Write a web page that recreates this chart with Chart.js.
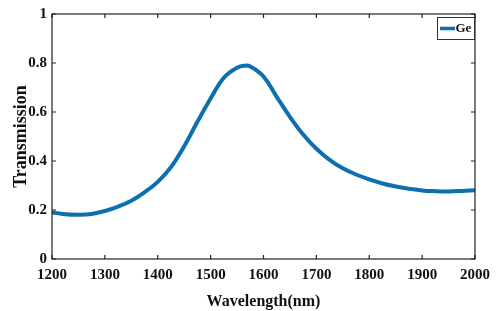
<!DOCTYPE html>
<html>
<head>
<meta charset="utf-8">
<script src="https://cdn.jsdelivr.net/npm/chart.js@4.4.1/dist/chart.umd.min.js"></script>
<style>
  html, body { margin: 0; padding: 0; background: #fff; }
  #wrap { width: 497px; height: 311px; }
</style>
</head>
<body>
<div id="wrap"><canvas id="transChart" width="497" height="311"></canvas></div>
<script>
// wavelength (nm) and transmission
const wavelength = [1200, 1225, 1250, 1275, 1300, 1325, 1350, 1375, 1400, 1425, 1450, 1475, 1500, 1525, 1550, 1565, 1575, 1600, 1625, 1650, 1675, 1700, 1725, 1750, 1775, 1800, 1825, 1850, 1875, 1900, 1925, 1950, 1975, 2000];
const transmission = [0.19, 0.183, 0.181, 0.184, 0.196, 0.214, 0.238, 0.272, 0.315, 0.375, 0.46, 0.56, 0.655, 0.74, 0.781, 0.789, 0.786, 0.745, 0.662, 0.58, 0.508, 0.45, 0.405, 0.37, 0.345, 0.325, 0.308, 0.296, 0.287, 0.28, 0.277, 0.276, 0.278, 0.281];
const xTicks = [1200, 1300, 1400, 1500, 1600, 1700, 1800, 1900, 2000];
const yTicks = [0, 0.2, 0.4, 0.6, 0.8, 1];
const seriesName = 'Ge';
const lineColor = '#0b6fb0';

const serif = '"Liberation Serif", "Times New Roman", serif';

// box, inward ticks and legend like the matlab figure
const frame = {
  id: 'frame',
  afterDatasetsDraw(chart) {
    const { ctx, chartArea: a, scales } = chart;
    ctx.save();
    ctx.strokeStyle = '#222';
    ctx.lineWidth = 1.2;
    ctx.strokeRect(a.left, a.top, a.right - a.left, a.bottom - a.top);
    const len = 4;
    ctx.beginPath();
    xTicks.forEach(v => {
      const x = scales.x.getPixelForValue(v);
      ctx.moveTo(x, a.bottom); ctx.lineTo(x, a.bottom - len);
      ctx.moveTo(x, a.top); ctx.lineTo(x, a.top + len);
    });
    yTicks.forEach(v => {
      const y = scales.y.getPixelForValue(v);
      ctx.moveTo(a.left, y); ctx.lineTo(a.left + len, y);
      ctx.moveTo(a.right, y); ctx.lineTo(a.right - len, y);
    });
    ctx.stroke();

    // legend box
    const ds = chart.data.datasets[0];
    const bx = 437, by = 17, bw = 37, bh = 22;
    ctx.fillStyle = '#fff';
    ctx.fillRect(bx, by, bw, bh);
    ctx.lineWidth = 1;
    ctx.strokeStyle = '#333';
    ctx.strokeRect(bx + 0.5, by + 0.5, bw, bh);
    ctx.strokeStyle = ds.borderColor;
    ctx.lineWidth = 3.5;
    ctx.beginPath();
    ctx.moveTo(bx + 3, by + bh / 2 + 0.5);
    ctx.lineTo(bx + 18, by + bh / 2 + 0.5);
    ctx.stroke();
    ctx.fillStyle = '#111';
    ctx.font = 'bold 13px ' + serif;
    ctx.textBaseline = 'middle';
    ctx.fillText(ds.label, bx + 18.5, by + bh / 2 + 1);
    ctx.restore();
  }
};

const ctx = document.getElementById('transChart').getContext('2d');
const transChart = new Chart(ctx, {
  type: 'line',
  data: {
    datasets: [{
      label: seriesName,
      data: wavelength.map((w, i) => ({ x: w, y: transmission[i] })),
      borderColor: lineColor,
      borderWidth: 4,
      pointRadius: 0,
      tension: 0.4,
      fill: false
    }]
  },
  options: {
    responsive: false,
    animation: false,
    layout: { padding: { top: 12, right: 17, left: 0, bottom: 0 } },
    plugins: {
      legend: { display: false },
      tooltip: { enabled: false }
    },
    scales: {
      x: {
        type: 'linear',
        min: 1200,
        max: 2000,
        grid: { display: false, drawTicks: false },
        border: { display: false },
        afterBuildTicks: s => { s.ticks = xTicks.map(v => ({ value: v })); },
        afterFit: s => { s.height = 52; },
        ticks: {
          color: '#111',
          padding: 7,
          maxRotation: 0,
          font: { family: serif, size: 15, weight: 'bold' },
          callback: v => String(v)
        },
        title: {
          display: true,
          text: 'Wavelength(nm)',
          color: '#111',
          padding: { top: 0, bottom: 0 },
          font: { family: serif, size: 16, weight: 'bold' }
        }
      },
      y: {
        min: 0,
        max: 1,
        grid: { display: false, drawTicks: false },
        border: { display: false },
        afterBuildTicks: s => { s.ticks = yTicks.map(v => ({ value: v })); },
        afterFit: s => { s.width = 52; },
        ticks: {
          color: '#111',
          padding: 5,
          font: { family: serif, size: 15, weight: 'bold' },
          callback: v => String(v)
        },
        title: {
          display: true,
          text: 'Transmission',
          color: '#111',
          padding: { top: 11, bottom: 0 },
          font: { family: serif, size: 18, weight: 'bold' }
        }
      }
    }
  },
  plugins: [frame]
});
</script>
</body>
</html>
